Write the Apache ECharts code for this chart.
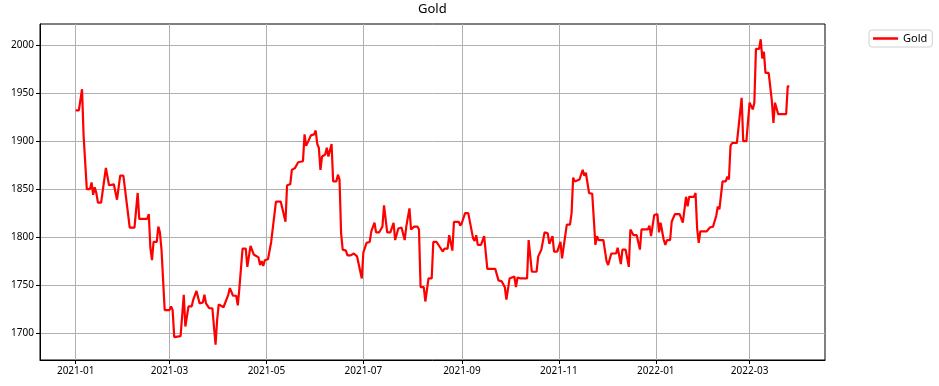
<!DOCTYPE html>
<html>
<head>
<meta charset="utf-8">
<script src="https://cdn.jsdelivr.net/npm/echarts@6/dist/echarts.min.js"></script>
<style>
html,body{margin:0;padding:0;background:#fff;}
#chart{width:939px;height:386px;}
</style>
</head>
<body>
<div id="chart"></div>
<script>
var chartTitle = 'Gold';
var seriesName = 'Gold';
var dates = [
'2021-01-01','2021-01-03','2021-01-05','2021-01-06','2021-01-08','2021-01-10','2021-01-11','2021-01-12','2021-01-13','2021-01-14',
'2021-01-15','2021-01-17','2021-01-20','2021-01-22','2021-01-25','2021-01-27','2021-01-29','2021-01-31','2021-02-04','2021-02-07',
'2021-02-09','2021-02-10','2021-02-15','2021-02-16','2021-02-17','2021-02-18','2021-02-19','2021-02-21','2021-02-22','2021-02-23',
'2021-02-24','2021-02-26','2021-03-01','2021-03-02','2021-03-03','2021-03-04','2021-03-08','2021-03-10','2021-03-11','2021-03-13',
'2021-03-15','2021-03-16','2021-03-17','2021-03-18','2021-03-20','2021-03-22','2021-03-23','2021-03-24','2021-03-26','2021-03-28',
'2021-03-30','2021-03-31','2021-04-01','2021-04-04','2021-04-05','2021-04-07','2021-04-08','2021-04-10','2021-04-12','2021-04-13',
'2021-04-14','2021-04-15','2021-04-16','2021-04-18','2021-04-19','2021-04-21','2021-04-23','2021-04-24','2021-04-26','2021-04-27',
'2021-04-28','2021-04-29','2021-04-30','2021-05-02','2021-05-04','2021-05-05','2021-05-07','2021-05-10','2021-05-13','2021-05-14',
'2021-05-16','2021-05-17','2021-05-19','2021-05-21','2021-05-24','2021-05-25','2021-05-26','2021-05-27','2021-05-29','2021-05-31',
'2021-06-01','2021-06-02','2021-06-03','2021-06-04','2021-06-05','2021-06-07','2021-06-08','2021-06-09','2021-06-11','2021-06-12',
'2021-06-14','2021-06-15','2021-06-16','2021-06-17','2021-06-18','2021-06-20','2021-06-21','2021-06-22','2021-06-23','2021-06-25',
'2021-06-27','2021-06-28','2021-06-30','2021-07-01','2021-07-03','2021-07-05','2021-07-06','2021-07-07','2021-07-08','2021-07-09',
'2021-07-11','2021-07-13','2021-07-14','2021-07-16','2021-07-18','2021-07-20','2021-07-21','2021-07-23','2021-07-25','2021-07-27',
'2021-07-28','2021-07-30','2021-07-31','2021-08-02','2021-08-04','2021-08-05','2021-08-06','2021-08-08','2021-08-09','2021-08-10',
'2021-08-11','2021-08-13','2021-08-14','2021-08-16','2021-08-18','2021-08-20','2021-08-21','2021-08-23','2021-08-24','2021-08-26',
'2021-08-27','2021-08-30','2021-08-31','2021-09-01','2021-09-02','2021-09-03','2021-09-05','2021-09-08','2021-09-09','2021-09-10',
'2021-09-11','2021-09-13','2021-09-14','2021-09-15','2021-09-17','2021-09-22','2021-09-24','2021-09-26','2021-09-28','2021-09-29',
'2021-10-01','2021-10-02','2021-10-04','2021-10-05','2021-10-06','2021-10-08','2021-10-12','2021-10-13','2021-10-15','2021-10-18',
'2021-10-19','2021-10-21','2021-10-23','2021-10-25','2021-10-26','2021-10-28','2021-10-29','2021-10-31','2021-11-02','2021-11-03',
'2021-11-06','2021-11-08','2021-11-09','2021-11-10','2021-11-11','2021-11-14','2021-11-16','2021-11-17','2021-11-18','2021-11-20',
'2021-11-22','2021-11-24','2021-11-25','2021-11-26','2021-11-29','2021-12-01','2021-12-02','2021-12-04','2021-12-07','2021-12-08',
'2021-12-10','2021-12-11','2021-12-13','2021-12-15','2021-12-16','2021-12-18','2021-12-20','2021-12-22','2021-12-23','2021-12-25',
'2021-12-27','2021-12-28','2021-12-29','2021-12-30','2021-12-31','2022-01-02','2022-01-03','2022-01-04','2022-01-06','2022-01-07',
'2022-01-08','2022-01-10','2022-01-11','2022-01-13','2022-01-16','2022-01-18','2022-01-19','2022-01-20','2022-01-21','2022-01-22',
'2022-01-25','2022-01-26','2022-01-27','2022-01-28','2022-01-29','2022-02-02','2022-02-04','2022-02-06','2022-02-08','2022-02-09',
'2022-02-10','2022-02-12','2022-02-14','2022-02-15','2022-02-16','2022-02-17','2022-02-18','2022-02-21','2022-02-22','2022-02-24',
'2022-02-25','2022-02-27','2022-03-01','2022-03-02','2022-03-03','2022-03-04','2022-03-05','2022-03-07','2022-03-08','2022-03-09',
'2022-03-10','2022-03-11','2022-03-13','2022-03-15','2022-03-16','2022-03-17','2022-03-19','2022-03-24','2022-03-25','2022-03-26'
];
var prices = [
1932,1932,1954,1905,1850,1850,1857,1844,1852,1846,
1836,1836,1872,1854,1855,1839,1864,1864,1810,1810,
1846,1819,1819,1824,1789,1776,1795,1795,1811,1805,
1787,1724,1724,1728,1724,1696,1697,1740,1707,1728,
1728,1735,1737,1744,1731,1732,1740,1731,1726,1726,
1688,1714,1730,1727,1727,1740,1747,1739,1739,1729,
1747,1749,1788,1788,1769,1791,1782,1781,1779,1771,
1775,1770,1776,1777,1795,1797,1837,1837,1816,1854,
1855,1870,1872,1878,1879,1907,1895,1893,1906,1907,
1911,1897,1893,1870,1884,1886,1893,1884,1897,1858,
1858,1865,1860,1804,1787,1786,1781,1783,1781,1783,
1780,1778,1757,1784,1794,1795,1806,1806,1815,1805,
1805,1811,1833,1805,1805,1815,1797,1809,1810,1797,
1811,1830,1808,1811,1811,1808,1748,1748,1733,1734,
1757,1757,1795,1795,1790,1785,1788,1788,1802,1786,
1816,1816,1812,1815,1813,1825,1825,1799,1796,1802,
1792,1792,1791,1801,1767,1767,1755,1754,1748,1735,
1757,1759,1759,1748,1758,1757,1757,1797,1764,1764,
1780,1787,1805,1804,1793,1801,1785,1785,1795,1778,
1813,1813,1825,1862,1858,1860,1870,1864,1867,1846,
1845,1792,1801,1797,1797,1775,1771,1783,1783,1789,
1772,1787,1787,1769,1808,1802,1802,1787,1808,1808,
1808,1812,1801,1799,1823,1824,1805,1815,1797,1792,
1797,1797,1816,1824,1824,1815,1816,1842,1832,1842,
1842,1846,1809,1794,1806,1806,1810,1811,1822,1832,
1829,1858,1858,1863,1860,1895,1898,1898,1897,1945,
1900,1900,1940,1938,1933,1940,1996,1996,2006,1986,
1993,1971,1971,1942,1919,1940,1928,1928,1957,1957
];
var xTickLabels = ['2021-01','2021-03','2021-05','2021-07','2021-09','2021-11','2022-01','2022-03'];
var yTickValues = [1700,1750,1800,1850,1900,1950,2000];

function parseDate(s) {
  var p = s.split('-').map(Number);
  return new Date(p[0], p[1] - 1, p[2] || 1).getTime();
}
function pad2(n) { return (n < 10 ? '0' : '') + n; }

var times = dates.map(parseDate);
var seriesData = times.map(function (t, i) { return [t, prices[i]]; });
var xTicks = xTickLabels.map(parseDate);

var tMin = Math.min.apply(null, times), tMax = Math.max.apply(null, times);
var tPad = (tMax - tMin) * 0.05;
var vMin = Math.min.apply(null, prices), vMax = Math.max.apply(null, prices);
var vPad = (vMax - vMin) * 0.05;

var FONT = 'Noto Sans';
var chart = echarts.init(document.getElementById('chart'), null, {renderer: 'canvas'});
chart.setOption({
  animation: false,
  backgroundColor: '#ffffff',
  title: {
    text: chartTitle,
    left: 418,
    top: 3,
    padding: 0,
    textStyle: {fontFamily: FONT, fontSize: 13, fontWeight: 'normal', color: '#000'}
  },
  legend: {
    data: [{name: seriesName, icon: 'rect'}],
    left: 869,
    top: 30,
    orient: 'vertical',
    padding: [3, 5, 3, 4],
    borderColor: '#d0d0d0',
    borderWidth: 1,
    borderRadius: 3,
    itemWidth: 25,
    itemHeight: 2.5,
    itemGap: 6,
    itemStyle: {color: '#ff0000', borderWidth: 0},
    textStyle: {fontFamily: FONT, fontSize: 11, color: '#000', padding: [1, 0, 1, 0]}
  },
  grid: {
    left: 40, right: 114, top: 24, bottom: 26,
    show: true, borderColor: '#000', borderWidth: 1,
    containLabel: false
  },
  xAxis: {
    type: 'value',
    min: tMin - tPad,
    max: tMax + tPad,
    axisLine: {show: true, onZero: false, lineStyle: {color: '#000', width: 1}},
    axisTick: {show: true, inside: false, length: 4, customValues: xTicks, lineStyle: {color: '#000'}},
    axisLabel: {
      customValues: xTicks,
      fontFamily: FONT, fontSize: 10, color: '#000', margin: 6,
      formatter: function (v) { var d = new Date(v); return d.getFullYear() + '-' + pad2(d.getMonth() + 1); }
    },
    splitLine: {show: true, lineStyle: {color: '#b0b0b0', width: 1}}
  },
  yAxis: {
    type: 'value',
    min: vMin - vPad,
    max: vMax + vPad,
    axisLine: {show: true, onZero: false, lineStyle: {color: '#000', width: 1}},
    axisTick: {show: true, inside: false, length: 4, customValues: yTickValues, lineStyle: {color: '#000'}},
    axisLabel: {
      customValues: yTickValues, fontFamily: FONT, fontSize: 10, color: '#000', margin: 6,
      formatter: function (v) { return String(Math.round(v)); }
    },
    splitLine: {show: true, lineStyle: {color: '#b0b0b0', width: 1}}
  },
  series: [{
    name: seriesName,
    type: 'line',
    data: seriesData,
    symbol: 'none',
    showSymbol: false,
    lineStyle: {color: '#ff0000', width: 2.2},
    itemStyle: {color: '#ff0000'},
    z: 3
  }]
});
</script>
</body>
</html>
